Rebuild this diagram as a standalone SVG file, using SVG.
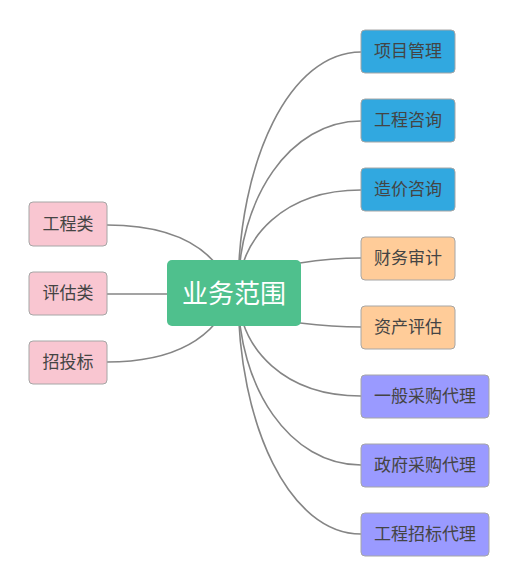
<svg xmlns="http://www.w3.org/2000/svg" width="519" height="586" viewBox="0 0 519 586">
<style>
.c{fill:none;stroke:#858585;stroke-width:1.6}
.n{stroke:#a6a6a6;stroke-width:1}
.t{font-family:"Liberation Sans","Noto Sans CJK SC",sans-serif;font-size:17px;fill:#444444;text-anchor:middle;dominant-baseline:central}
.blue{fill:#31a8e0}
.orange{fill:#ffcc99}
.purple{fill:#9a9aff}
.pink{fill:#f9c6d1}
</style>
<rect width="519" height="586" fill="#ffffff"/>
<g id="connectors">
<path class="c" d="M238,293 C238,160 290,52 361,52"/>
<path class="c" d="M238,293 C238,198 290,121 361,121"/>
<path class="c" d="M238,293 C240,236 285,190 361,190"/>
<path class="c" d="M300,263 C325,259 340,258 361,258"/>
<path class="c" d="M300,323 C325,326 340,327 361,327"/>
<path class="c" d="M238,293 C240,350 285,396 361,396"/>
<path class="c" d="M238,293 C238,388 290,465 361,465"/>
<path class="c" d="M238,293 C238,426 290,534 361,534"/>
<path class="c" d="M107,225 C170,225 215,245 233,293"/>
<path class="c" d="M107,294 L167,294"/>
<path class="c" d="M107,362 C170,362 215,341 233,293"/>
</g>
<g id="center">
<rect x="167" y="260" width="134" height="66" rx="5" fill="#4fc08d"/>
<text x="234" y="294" style="font-family:'Liberation Sans','Noto Sans CJK SC',sans-serif;font-size:26px;fill:#ffffff;text-anchor:middle;dominant-baseline:central">业务范围</text>
</g>
<g id="n1"><rect class="n blue" x="361" y="30" width="94" height="43" rx="4"/><text class="t" x="408" y="51.5">项目管理</text></g>
<g id="n2"><rect class="n blue" x="361" y="99" width="94" height="43" rx="4"/><text class="t" x="408" y="120.5">工程咨询</text></g>
<g id="n3"><rect class="n blue" x="361" y="168" width="94" height="43" rx="4"/><text class="t" x="408" y="189.5">造价咨询</text></g>
<g id="n4"><rect class="n orange" x="361" y="237" width="94" height="43" rx="4"/><text class="t" x="408" y="258.5">财务审计</text></g>
<g id="n5"><rect class="n orange" x="361" y="306" width="94" height="43" rx="4"/><text class="t" x="408" y="327.5">资产评估</text></g>
<g id="n6"><rect class="n purple" x="361" y="375" width="128" height="43" rx="4"/><text class="t" x="425" y="396.5">一般采购代理</text></g>
<g id="n7"><rect class="n purple" x="361" y="444" width="128" height="43" rx="4"/><text class="t" x="425" y="465.5">政府采购代理</text></g>
<g id="n8"><rect class="n purple" x="361" y="513" width="128" height="43" rx="4"/><text class="t" x="425" y="534.5">工程招标代理</text></g>
<g id="l1"><rect class="n pink" x="29" y="202" width="78" height="44" rx="4"/><text class="t" x="68" y="224">工程类</text></g>
<g id="l2"><rect class="n pink" x="29" y="272" width="78" height="43" rx="4"/><text class="t" x="68" y="293.5">评估类</text></g>
<g id="l3"><rect class="n pink" x="29" y="341" width="78" height="43" rx="4"/><text class="t" x="68" y="362.5">招投标</text></g>
</svg>
